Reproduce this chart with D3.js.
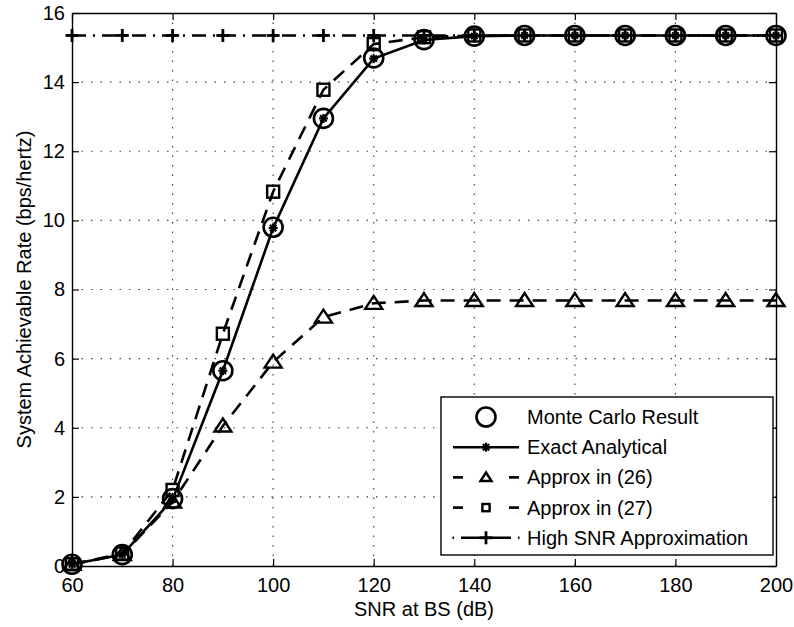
<!DOCTYPE html>
<html>
<head>
<meta charset="utf-8">
<script src="https://cdn.jsdelivr.net/npm/d3@7"></script>
<style>
  body { margin: 0; background: #fff; }
  svg text { font-family: "Liberation Sans", Arial, Helvetica, sans-serif; fill: #000; }
</style>
</head>
<body>
<svg width="794" height="627"></svg>
<script>
// SNR values (dB)
const snr = [60, 70, 80, 90, 100, 110, 120, 130, 140, 150, 160, 170, 180, 190, 200];

// rates
const monteCarlo = [0.05, 0.33, 1.95, 5.65, 9.8, 12.95, 14.7, 15.23, 15.33, 15.35, 15.35, 15.35, 15.35, 15.35, 15.35];
const exactAnalytical = [0.05, 0.33, 1.92, 5.65, 9.78, 12.95, 14.68, 15.22, 15.33, 15.35, 15.35, 15.35, 15.35, 15.35, 15.35];
const approx26 = [0.05, 0.33, 1.85, 4.05, 5.9, 7.2, 7.6, 7.68, 7.68, 7.68, 7.68, 7.68, 7.68, 7.68, 7.68];
const approx27 = [0.05, 0.36, 2.2, 6.72, 10.83, 13.78, 15.1, 15.3, 15.35, 15.35, 15.35, 15.35, 15.35, 15.35, 15.35];
const highSnr = [15.35, 15.35, 15.35, 15.35, 15.35, 15.35, 15.35, 15.35, 15.35, 15.35, 15.35, 15.35, 15.35, 15.35, 15.35];

const xTicks = [60, 80, 100, 120, 140, 160, 180, 200];
const yTicks = [0, 2, 4, 6, 8, 10, 12, 14, 16];

const legendLabels = ["Monte Carlo Result", "Exact Analytical", "Approx in (26)", "Approx in (27)", "High SNR Approximation"];

const svg = d3.select("svg");
const margin = {top: 13, left: 72, bottom: 61, right: 18};
const width = +svg.attr("width");
const height = +svg.attr("height");
const innerwidth = width - margin.left - margin.right;
const innerheight = height - margin.top - margin.bottom;
const FS = 20;

const xScale = d3.scaleLinear().domain([60, 200]).range([0, innerwidth]);
const yScale = d3.scaleLinear().domain([0, 16]).range([innerheight, 0]);

const g = svg.append("g").attr("transform", `translate(${margin.left}, ${margin.top})`);

// dotted grid
g.append("g").selectAll("line").data(xTicks.slice(1, -1)).enter().append("line")
    .attr("x1", d => xScale(d)).attr("x2", d => xScale(d))
    .attr("y1", 0).attr("y2", innerheight)
    .attr("stroke", "#444").attr("stroke-width", 1.2).attr("stroke-dasharray", "1.5,8");
g.append("g").selectAll("line").data(yTicks.slice(1, -1)).enter().append("line")
    .attr("y1", d => yScale(d)).attr("y2", d => yScale(d))
    .attr("x1", 0).attr("x2", innerwidth)
    .attr("stroke", "#444").attr("stroke-width", 1.2).attr("stroke-dasharray", "1.5,8");

// axes (matlab box style, ticks inside)
const xAxis = g.append("g").attr("transform", `translate(0, ${innerheight})`)
    .call(d3.axisBottom(xScale).tickValues(xTicks).tickSize(-7).tickPadding(12).tickSizeOuter(0));
const xAxisTop = g.append("g")
    .call(d3.axisTop(xScale).tickValues(xTicks).tickSize(-7).tickFormat("").tickSizeOuter(0));
const yAxis = g.append("g")
    .call(d3.axisLeft(yScale).tickValues(yTicks).tickSize(-7).tickPadding(7).tickSizeOuter(0));
const yAxisRight = g.append("g").attr("transform", `translate(${innerwidth}, 0)`)
    .call(d3.axisRight(yScale).tickValues(yTicks).tickSize(-7).tickFormat("").tickSizeOuter(0));

[xAxis, xAxisTop, yAxis, yAxisRight].forEach(a => {
    a.selectAll(".domain").attr("stroke", "#000").attr("stroke-width", 1.4);
    a.selectAll(".tick line").attr("stroke", "#000").attr("stroke-width", 1.2);
    a.selectAll("text").attr("font-size", FS).attr("font-family", "Liberation Sans, Arial, sans-serif");
});

// axis labels
svg.append("text")
    .attr("x", margin.left + innerwidth / 2).attr("y", 616)
    .attr("text-anchor", "middle").attr("font-size", FS)
    .text("SNR at BS (dB)");
svg.append("text")
    .attr("transform", `translate(31, ${margin.top + innerheight / 2}) rotate(-90)`)
    .attr("text-anchor", "middle").attr("font-size", FS)
    .text("System Achievable Rate (bps/hertz)");

const line = ys => d3.line().x((d, i) => xScale(snr[i])).y(d => yScale(d))(ys);

// marker drawing helpers
const circleMark = (sel, x, y) => sel.append("circle").attr("cx", x).attr("cy", y).attr("r", 9.5)
    .attr("fill", "none").attr("stroke", "#000").attr("stroke-width", 2.6);
const starMark = (sel, x, y) => {
    const s = 4.5;
    [0, 45, 90, 135].forEach(a => {
        const r = a * Math.PI / 180;
        sel.append("line")
            .attr("x1", x - s * Math.cos(r)).attr("y1", y - s * Math.sin(r))
            .attr("x2", x + s * Math.cos(r)).attr("y2", y + s * Math.sin(r))
            .attr("stroke", "#000").attr("stroke-width", 2.2);
    });
};
const triMark = (sel, x, y, k = 1) => sel.append("path")
    .attr("d", `M${x},${y - 7.5 * k}L${x + 8.5 * k},${y + 5.5 * k}L${x - 8.5 * k},${y + 5.5 * k}Z`)
    .attr("fill", "none").attr("stroke", "#000").attr("stroke-width", 2.4);
const sqMark = (sel, x, y, k = 1) => sel.append("rect")
    .attr("x", x - 6 * k).attr("y", y - 6 * k).attr("width", 12 * k).attr("height", 12 * k)
    .attr("fill", "none").attr("stroke", "#000").attr("stroke-width", 2.4);
const plusMark = (sel, x, y) => {
    sel.append("line").attr("x1", x - 6.5).attr("x2", x + 6.5).attr("y1", y).attr("y2", y)
        .attr("stroke", "#000").attr("stroke-width", 2.8);
    sel.append("line").attr("x1", x).attr("x2", x).attr("y1", y - 6.5).attr("y2", y + 6.5)
        .attr("stroke", "#000").attr("stroke-width", 2.8);
};

const series = [
    {values: highSnr, dash: "14,7,2,7", mark: plusMark, line: true},
    {values: approx26, dash: "14,9", mark: triMark, line: true},
    {values: approx27, dash: "14,9", mark: sqMark, line: true},
    {values: exactAnalytical, dash: null, mark: starMark, line: true},
    {values: monteCarlo, dash: null, mark: circleMark, line: false}
];

series.forEach(s => {
    const sg = g.append("g");
    if (s.line) {
        sg.append("path").attr("d", line(s.values))
            .attr("fill", "none").attr("stroke", "#000").attr("stroke-width", 2.6)
            .attr("stroke-dasharray", s.dash);
    }
    s.values.forEach((v, i) => s.mark(sg, xScale(snr[i]), yScale(v)));
});

// legend
const legend = svg.append("g").attr("transform", "translate(441, 397)");
legend.append("rect").attr("width", 332).attr("height", 158)
    .attr("fill", "#fff").attr("stroke", "#000").attr("stroke-width", 1.4);

const seg = (sel, x1, x2, y) => sel.append("line").attr("x1", x1).attr("x2", x2)
    .attr("y1", y).attr("y2", y).attr("stroke", "#000").attr("stroke-width", 2.6);

const legendSamples = [
    (lg, y) => circleMark(lg, 45, y),
    (lg, y) => { seg(lg, 12, 78, y); starMark(lg, 45, y); },
    (lg, y) => { seg(lg, 12, 22, y); seg(lg, 68, 78, y); triMark(lg, 45, y, 0.65); },
    (lg, y) => { seg(lg, 12, 22, y); seg(lg, 68, 78, y); sqMark(lg, 45, y, 0.6); },
    (lg, y) => { seg(lg, 11.5, 13, y); seg(lg, 20, 70, y); seg(lg, 77, 78.5, y);
                 lg.select("line:last-child"); plusMark(lg, 45, y); }
];
legendSamples.forEach((draw, i) => {
    const y = 20 + i * 30.2;
    const lg = legend.append("g");
    draw(lg, y);
    lg.append("text").attr("x", 86).attr("y", y + 7).attr("font-size", FS)
        .text(legendLabels[i]);
});
</script>
</body>
</html>
